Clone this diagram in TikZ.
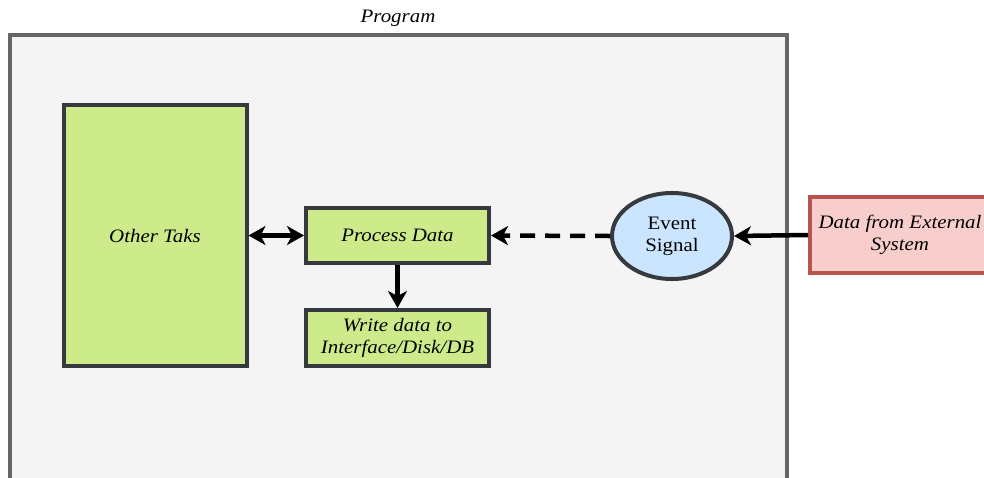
\documentclass[tikz,border=0pt]{standalone}
\usepackage{fontspec}
\setmainfont[FakeStretch=1.1]{Liberation Serif}
\usetikzlibrary{arrows.meta,shapes.geometric}

\definecolor{frameback}{HTML}{F4F4F4}
\definecolor{frameline}{HTML}{666666}
\definecolor{taskfill}{HTML}{CDEB8B}
\definecolor{darkline}{HTML}{36393D}
\definecolor{signalfill}{HTML}{CCE5FF}
\definecolor{extfill}{HTML}{F8CECC}
\definecolor{extline}{HTML}{B85450}

\tikzset{
  txt/.style={font=\fontsize{19}{22}\selectfont, align=center, inner sep=0pt},
  taskbox/.style={draw=darkline, fill=taskfill, line width=4pt, txt, font=\fontsize{19}{22}\selectfont\itshape},
  tip/.style={Stealth[length=17pt,width=19pt,inset=5pt]},
  flow/.style={line width=4.5pt, -{Stealth[length=17pt,width=19pt,inset=5pt]}},
  flowboth/.style={line width=4.5pt, {Stealth[length=17pt,width=19pt,inset=5pt]}-{Stealth[length=17pt,width=19pt,inset=5pt]}},
}

\begin{document}
\begin{tikzpicture}[x=1pt,y=-1pt]
\useasboundingbox (0,0) rectangle (984,477);
\clip (0,0) rectangle (984,477);

% program frame, running past the lower edge
\draw[draw=frameline, fill=frameback, line width=4.5pt] (10,530) -- (10,35) -- (787,35) -- (787,530);
\node[txt, font=\fontsize{19}{22}\selectfont\itshape] (prog) at (398,18) {Program};

% tasks
\node[taskbox, minimum width=183pt, minimum height=261pt] (other) at (155,235.5) {Other Taks};
\node[taskbox, minimum width=183pt, minimum height=55pt] (proc) at (397.5,235.5) {Process Data};
\node[taskbox, minimum width=183pt, minimum height=56pt] (write) at (397.5,338) {Write data to\\Interface/Disk/DB};

% signal
\node[draw=darkline, fill=signalfill, line width=4pt, ellipse, txt, minimum width=120pt, minimum height=86pt] (sig) at (672,236) {Event\\Signal};

% external source
\node[draw=extline, fill=extfill, line width=4pt, txt, font=\fontsize{19}{22}\selectfont\itshape, minimum width=180pt, minimum height=76pt] (ext) at (900,235) {Data from External\\System};

% connectors
\draw[flowboth] (other.east |- proc.west) -- (proc.west);
\draw[flow] (proc.south) -- (write.north);
\draw[flow, dash pattern=on 15pt off 10pt] (sig.west) -- (proc.east);
\draw[flow] (ext.west) -- (sig.east);
\end{tikzpicture}
\end{document}
